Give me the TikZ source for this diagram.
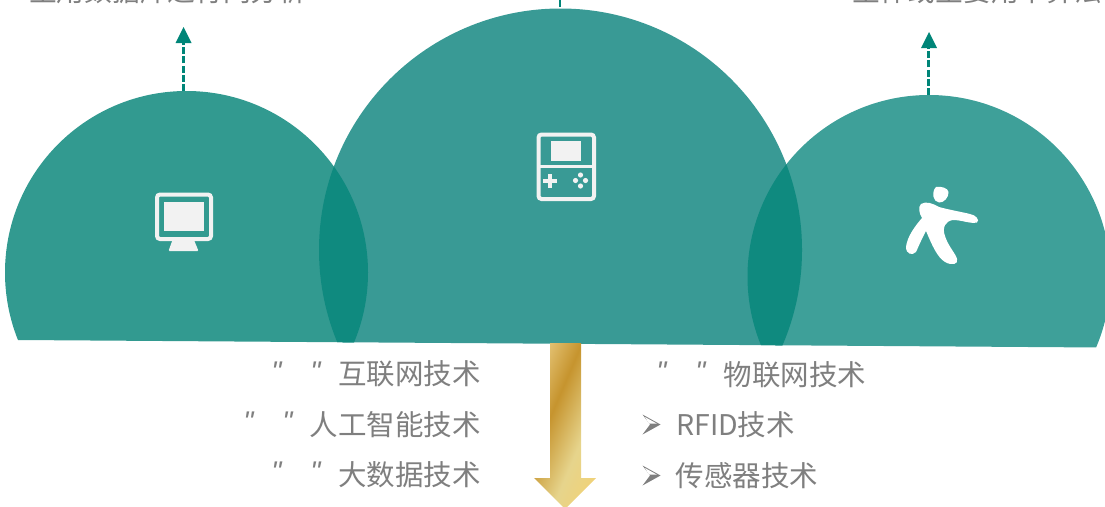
\documentclass[tikz,border=0pt]{standalone}
\usepackage{fontspec}
\setmainfont{Noto Sans CJK SC}
\newfontfamily\latinf{Liberation Sans}
\usetikzlibrary{calc}
\definecolor{tealL}{RGB}{50,154,144}
\definecolor{tealM}{RGB}{57,154,149}
\definecolor{tealR}{RGB}{62,160,153}
\definecolor{tealO}{RGB}{15,138,127}
\definecolor{arrowT}{RGB}{0,133,120}
\definecolor{txt}{RGB}{127,127,127}
\definecolor{icon}{RGB}{242,242,242}
\definecolor{goldA}{RGB}{226,192,112}
\definecolor{goldB}{RGB}{198,148,46}
\definecolor{goldD}{RGB}{230,212,140}
\definecolor{goldE}{RGB}{240,210,120}
\pgfdeclarehorizontalshading{goldband}{100bp}{%
  color(0bp)=(goldA);
  color(38.5bp)=(goldA);
  color(45.75bp)=(goldB);
  color(55.25bp)=(goldD);
  color(62.25bp)=(goldE);
  color(100bp)=(goldE)}
\tikzset{
  x=1pt,y=-1pt,
  lbl/.style={inner sep=0pt,text=txt,font=\fontsize{28.5}{28.5}\selectfont},
  toplbl/.style={inner sep=0pt,text=txt,font=\fontsize{27.7}{27.7}\selectfont},
  dashup/.style={draw=arrowT,line width=2.6pt,dash pattern=on 7pt off 2.2pt},
  headup/.style={fill=arrowT,draw=none},
  iconline/.style={draw=icon,line width=4pt,rounded corners=3pt},
  iconfill/.style={fill=icon,draw=none},
  quo/.style={inner sep=0pt,text=txt,font=\latinf\itshape\fontsize{28.5}{28.5}\selectfont}
}
\begin{document}
\begin{tikzpicture}
\useasboundingbox (0,0) rectangle (1105,506);
\path[clip] (0,0) rectangle (1105,506);
\def\chord{(-10,339.8) -- (1115,347.6) -- (1115,-20) -- (-10,-20) -- cycle}
\begin{scope}
  \clip \chord;
  \fill[tealL] (186.5,272.5) circle (181.5);
  \fill[tealR] (929,276.5) circle (181.5);
  \fill[tealM] (560.5,250) circle (241.5);
  \begin{scope}
    \clip (186.5,272.5) circle (181.5);
    \fill[tealO] (560.5,250) circle (241.5);
  \end{scope}
  \begin{scope}
    \clip (929,276.5) circle (181.5);
    \fill[tealO] (560.5,250) circle (241.5);
  \end{scope}
\end{scope}
% top texts
\node[toplbl,anchor=west] (top1) at (29,-9) {主用数据库进行网分析};
\node[toplbl,anchor=east] (top3) at (1102,-9) {主体或主要用本算法};
% dashed arrows
\coordinate (a1s) at (183.5,91); \coordinate (a1e) at (183.5,43);
\coordinate (a2s) at (928.7,95); \coordinate (a2e) at (928.7,47);
\coordinate (a3s) at (560,7); \coordinate (a3e) at (560,-6);
\draw[dashup] (a1s) -- (a1e);
\draw[dashup] (a2s) -- (a2e);
\draw[dashup] (a3s) -- (a3e);
\fill[headup] (183.5,27) -- (191.5,43) -- (175.5,43) -- cycle;
\fill[headup] (929,32) -- (937,48) -- (921,48) -- cycle;
% gold arrow
\begin{scope}
  \clip (550,343) -- (581,343) -- (581,478) -- (596,478) -- (565,509) -- (534,478) -- (550,478) -- cycle;
  \shade[shading=goldband,shading angle=-23.2] (465,325) rectangle (665,525);
\end{scope}
% monitor icon
\draw[iconline] (157,194.5) rectangle (211,239);
\fill[iconfill] (163.5,202) rectangle (204,231);
\fill[iconfill,rounded corners=1pt] (172.5,240) -- (194,240) -- (198.5,251) -- (168.5,251) -- cycle;
% console icon
\draw[iconline] (538.5,134.5) rectangle (594,199);
\draw[draw=icon,line width=2.5pt] (538.5,166.5) -- (594,166.5);
\fill[iconfill] (550.5,140.5) rectangle (581,161);
\fill[iconfill] (543,178.5) rectangle (556.5,183);
\fill[iconfill] (547.5,174) rectangle (552,187.5);
\foreach \px/\py in {580.5/175, 575.5/180.5, 585.5/180.5, 580.5/186}
  \fill[iconfill] (\px,\py) circle (2.6);
% runner icon
\fill[white] (936,187) .. controls (941,186) and (948,188) .. (948.5,192) .. controls (949,197) and (944,203) .. (939,202.5) .. controls (933,202) and (931,192) .. (936,187) -- cycle;
\fill[white] (921,204) .. controls (926,201) and (932,203) .. (939,207) .. controls (950,210) and (962,212) .. (970,214) .. controls (976,215) and (980,220) .. (977,222.5) .. controls (970,224) and (962,220) .. (953,220) .. controls (945,221) and (942,228) .. (945,236) .. controls (948,246) and (956,254) .. (957,259) .. controls (959,264) and (952,266) .. (945,262) .. controls (937,257) and (932,245) .. (926,231) .. controls (922,238) and (917,250) .. (916,252) .. controls (912,256) and (906,254) .. (906,247) .. controls (907,237) and (915,226) .. (922,218) .. controls (919,213) and (918,207) .. (921,204) -- cycle;
% left list
\node[lbl,anchor=east] (t1) at (481,374) {互联网技术};
\node[lbl,anchor=east] (t2) at (481,425) {人工智能技术};
\node[lbl,anchor=east] (t3) at (481,475) {大数据技术};
\node[quo] (q1a) at (276.5,372) {"};
\node[quo] (q1b) at (315.5,372) {"};
\node[quo] (q2a) at (248.5,422) {"};
\node[quo] (q2b) at (287.5,422) {"};
\node[quo] (q3a) at (276.5,472) {"};
\node[quo] (q3b) at (315.5,472) {"};
% right list
\node[lbl,anchor=west] (t4) at (723.5,375) {物联网技术};
\node[lbl,anchor=west] (t5) at (676,425) {RFID技术};
\node[lbl,anchor=west] (t6) at (675.5,476) {传感器技术};
\node[quo] (q4a) at (661.5,372) {"};
\node[quo] (q4b) at (700.5,372) {"};
\foreach \cy in {424.5,475.5} {
  \fill[txt] (642.5,\cy-10) -- (660.5,\cy) -- (642.5,\cy+10) -- (650,\cy) -- cycle;
  \fill[white] (645,\cy-7.5) -- (657,\cy-0.8) -- (649,\cy-0.8) -- cycle;
}
\end{tikzpicture}
\end{document}
